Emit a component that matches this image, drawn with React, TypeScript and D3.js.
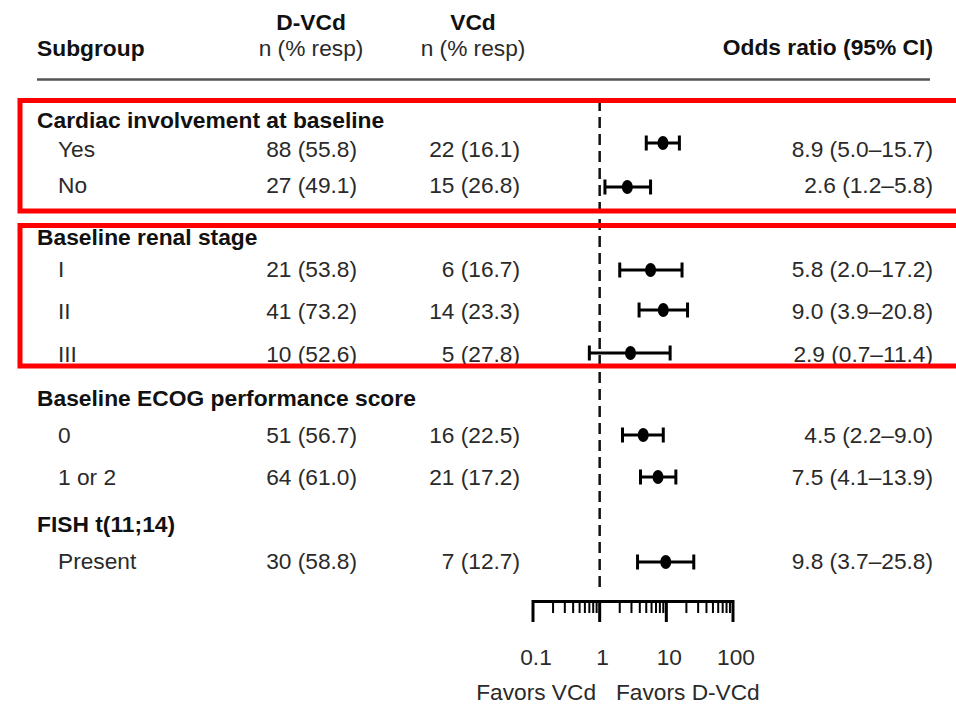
import React from "react";
import * as d3 from "d3";

// Subgroup table: group headings and the rows beneath each one
const groupLabels = [
  "Cardiac involvement at baseline",
  "Baseline renal stage",
  "Baseline ECOG performance score",
  "FISH t(11;14)",
];
const subgroupLabels = ["Yes", "No", "I", "II", "III", "0", "1 or 2", "Present"];
const subgroupGroup = [0, 0, 1, 1, 1, 2, 2, 3];

// Responders, n (% resp)
const dvcdN = [88, 27, 21, 41, 10, 51, 64, 30];
const dvcdPct = [55.8, 49.1, 53.8, 73.2, 52.6, 56.7, 61.0, 58.8];
const vcdN = [22, 15, 6, 14, 5, 16, 21, 7];
const vcdPct = [16.1, 26.8, 16.7, 23.3, 27.8, 22.5, 17.2, 12.7];

// Odds ratio and 95% CI
const oddsRatio = [8.9, 2.6, 5.8, 9.0, 2.9, 4.5, 7.5, 9.8];
const ciLow = [5.0, 1.2, 2.0, 3.9, 0.7, 2.2, 4.1, 3.7];
const ciHigh = [15.7, 5.8, 17.2, 20.8, 11.4, 9.0, 13.9, 25.8];

const axisTicks = [0.1, 1, 10, 100];
const axisTickLabels = ["0.1", "1", "10", "100"];

// Vertical layout (centres of each text line)
const groupY = [120, 237, 398, 524];
const rowY = [149, 185, 269, 311, 354, 435, 477, 561];
const markY = [143, 187, 270, 310, 353, 435, 477, 562];

const FONT = "'Liberation Sans', Arial, Helvetica, sans-serif";
const FS = 22.7;
const FS_BOLD = 22.8;
const TEXT = "#2a2a2a";

const fmt1 = d3.format(".1f");

export default function App() {
  const x = d3.scaleLog().domain([0.1, 100]).range([533, 733]);
  const allTicks = x.ticks();
  const minorTicks = allTicks.filter(
    (t) => !axisTicks.some((m) => Math.abs(m - t) / m < 1e-6)
  );

  const axisY = 601.5;
  const capH = 15;

  return (
    <svg
      width={956}
      height={704}
      style={{ position: "absolute", left: 0, top: 0, display: "block", background: "#fff" }}
      fontFamily={FONT}
      fontSize={FS}
    >
      {/* column headers */}
      <g fill="#111" fontWeight="bold" fontSize={FS_BOLD}>
        <text x={37} y={48} dy="0.35em">Subgroup</text>
        <text x={311} y={22} dy="0.35em" textAnchor="middle">D-VCd</text>
        <text x={473} y={22} dy="0.35em" textAnchor="middle">VCd</text>
        <text x={933} y={47} dy="0.35em" textAnchor="end">Odds ratio (95% CI)</text>
      </g>
      <g fill={TEXT}>
        <text x={311} y={48} dy="0.35em" textAnchor="middle">n (% resp)</text>
        <text x={473} y={48} dy="0.35em" textAnchor="middle">n (% resp)</text>
      </g>
      <line x1={37} x2={930} y1={79.5} y2={79.5} stroke="#555" strokeWidth={2.5} />

      {/* reference line at OR = 1 */}
      <line
        x1={x(1)}
        x2={x(1)}
        y1={100}
        y2={592}
        stroke="#111"
        strokeWidth={2.5}
        strokeDasharray="11 6"
      />

      {/* group headings */}
      <g fill="#111" fontWeight="bold" fontSize={FS_BOLD}>
        {groupLabels.map((g, i) => (
          <text key={g} x={37} y={groupY[i]} dy="0.35em">{g}</text>
        ))}
      </g>

      {/* subgroup rows */}
      <g fill={TEXT}>
        {subgroupLabels.map((s, i) => (
          <g key={s + i}>
            <text x={58} y={rowY[i]} dy="0.35em">{s}</text>
            <text x={357} y={rowY[i]} dy="0.35em" textAnchor="end">
              {`${dvcdN[i]} (${fmt1(dvcdPct[i])})`}
            </text>
            <text x={520} y={rowY[i]} dy="0.35em" textAnchor="end">
              {`${vcdN[i]} (${fmt1(vcdPct[i])})`}
            </text>
            <text x={933} y={rowY[i]} dy="0.35em" textAnchor="end">
              {`${fmt1(oddsRatio[i])} (${fmt1(ciLow[i])}\u2013${fmt1(ciHigh[i])})`}
            </text>
          </g>
        ))}
      </g>

      {/* point estimates with 95% CI */}
      <g stroke="#000" fill="#000">
        {oddsRatio.map((or, i) => {
          const y = markY[i];
          const lo = x(ciLow[i]);
          const hi = x(ciHigh[i]);
          return (
            <g key={"m" + i} data-group={subgroupGroup[i]}>
              <line x1={lo} x2={hi} y1={y} y2={y} strokeWidth={3} />
              <line x1={lo} x2={lo} y1={y - capH / 2} y2={y + capH / 2} strokeWidth={3} />
              <line x1={hi} x2={hi} y1={y - capH / 2} y2={y + capH / 2} strokeWidth={3} />
              <ellipse cx={x(or)} cy={y} rx={5.5} ry={7} stroke="none" />
            </g>
          );
        })}
      </g>

      {/* log axis */}
      <g stroke="#000">
        <line x1={x(0.1)} x2={x(100)} y1={axisY} y2={axisY} strokeWidth={3} />
        {minorTicks.map((t) => (
          <line key={"mt" + t} x1={x(t)} x2={x(t)} y1={axisY} y2={613} strokeWidth={2} />
        ))}
        {axisTicks.map((t) => (
          <line key={"Mt" + t} x1={x(t)} x2={x(t)} y1={axisY - 1.5} y2={622} strokeWidth={3} />
        ))}
      </g>
      <g fill={TEXT} textAnchor="middle">
        {axisTicks.map((t, i) => (
          <text key={"tl" + t} x={x(t) + 3} y={657} dy="0.35em">{axisTickLabels[i]}</text>
        ))}
      </g>
      <g fill={TEXT}>
        <text x={596} y={692} dy="0.35em" textAnchor="end">Favors VCd</text>
        <text x={616} y={692} dy="0.35em">Favors D-VCd</text>
      </g>

      {/* highlight frames */}
      <g fill="none" stroke="#ff0000" strokeWidth={5}>
        <rect x={20} y={100.5} width={1000} height={110.5} />
        <rect x={20} y={225.5} width={1000} height={140.5} />
      </g>
    </svg>
  );
}
